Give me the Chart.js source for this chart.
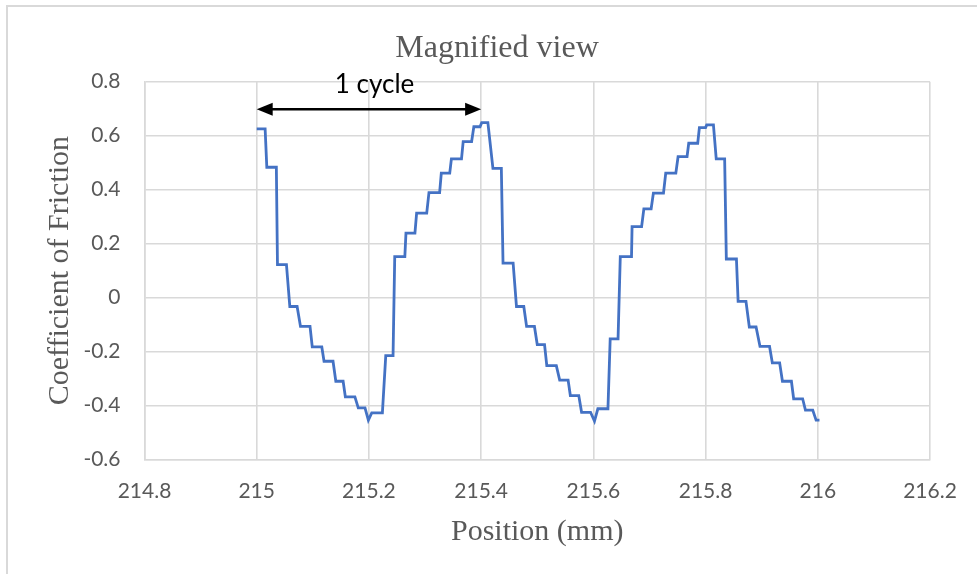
<!DOCTYPE html>
<html>
<head>
<meta charset="utf-8">
<script src="https://cdn.jsdelivr.net/npm/chart.js@4/dist/chart.umd.min.js"></script>
<style>
  html, body { margin: 0; padding: 0; background: #ffffff; }
  #wrap { width: 977px; height: 574px; position: relative; }
</style>
</head>
<body>
<div id="wrap"><canvas id="cof"></canvas></div>
<script>
// Sliding position (mm) and coefficient of friction over two reciprocating cycles
const positionMm = [215.000,215.015,215.018,215.035,215.037,215.053,215.059,215.072,215.078,215.095,
  215.099,215.116,215.120,215.136,215.141,215.154,215.158,215.175,215.181,215.193,
  215.199,215.205,215.224,215.230,215.243,215.246,215.264,215.266,215.282,215.285,
  215.303,215.307,215.326,215.329,215.344,215.347,215.365,215.368,215.383,215.387,
  215.398,215.401,215.412,215.421,215.436,215.439,215.457,215.463,215.476,215.481,
  215.495,215.500,215.513,215.517,215.534,215.540,215.555,215.559,215.574,215.579,
  215.595,215.602,215.608,215.626,215.630,215.644,215.648,215.668,215.669,215.686,
  215.690,215.703,215.707,215.725,215.729,215.747,215.751,215.767,215.770,215.786,
  215.789,215.800,215.802,215.814,215.819,215.834,215.837,215.855,215.858,215.872,
  215.878,215.890,215.897,215.914,215.919,215.932,215.937,215.953,215.957,215.973,
  215.978,215.991,215.997,216.003];
const frictionCoef = [0.625,0.625,0.483,0.483,0.122,0.122,-0.033,-0.033,-0.107,-0.107,
  -0.183,-0.183,-0.236,-0.236,-0.310,-0.310,-0.368,-0.368,-0.409,-0.409,
  -0.454,-0.427,-0.427,-0.215,-0.215,0.152,0.152,0.239,0.239,0.313,
  0.313,0.389,0.389,0.461,0.461,0.514,0.514,0.578,0.578,0.633,
  0.633,0.648,0.648,0.479,0.479,0.128,0.128,-0.033,-0.033,-0.107,
  -0.107,-0.174,-0.174,-0.252,-0.252,-0.306,-0.306,-0.363,-0.363,-0.425,
  -0.425,-0.458,-0.412,-0.412,-0.153,-0.153,0.152,0.152,0.263,0.263,
  0.329,0.329,0.387,0.387,0.461,0.461,0.522,0.522,0.572,0.572,
  0.630,0.630,0.640,0.640,0.514,0.514,0.143,0.143,-0.014,-0.014,
  -0.109,-0.109,-0.181,-0.181,-0.242,-0.242,-0.310,-0.310,-0.375,-0.375,
  -0.417,-0.417,-0.454,-0.454];

// Axis tick values
const xTicks = [214.8, 215, 215.2, 215.4, 215.6, 215.8, 216, 216.2];
const yTicks = [-0.6, -0.4, -0.2, 0, 0.2, 0.4, 0.6, 0.8];

// "1 cycle" span marker
const cycleStart = 215.0;
const cycleEnd = 215.4;
const cycleLevel = 0.698;
const cycleLabel = '1 cycle';
const cycleLabelPos = { x: 215.21, y: 0.79 };

const GRID = '#d9d9d9';
const TEXT = '#595959';
const SANS = 'Lato, "Open Sans", sans-serif';
const SERIF = '"Liberation Serif", "Times New Roman", serif';

const points = positionMm.map((x, i) => ({ x: x, y: frictionCoef[i] }));

// Light frame around the whole chart object
const framePlugin = {
  id: 'frame',
  beforeDraw(chart) {
    const ctx = chart.ctx;
    ctx.save();
    ctx.fillStyle = '#ffffff';
    ctx.fillRect(0, 0, chart.width, chart.height);
    ctx.strokeStyle = GRID;
    ctx.lineWidth = 2;
    ctx.strokeRect(7, 6, chart.width + 20, chart.height + 20);
    ctx.restore();
  }
};

// Double-headed arrow spanning one cycle, with its label
const cyclePlugin = {
  id: 'cycleSpan',
  afterDatasetsDraw(chart) {
    const { ctx, scales: { x, y } } = chart;
    const x0 = x.getPixelForValue(cycleStart);
    const x1 = x.getPixelForValue(cycleEnd);
    const yy = y.getPixelForValue(cycleLevel);
    const head = 16, half = 6.5;
    ctx.save();
    ctx.strokeStyle = '#000000';
    ctx.fillStyle = '#000000';
    ctx.lineWidth = 2.5;
    ctx.beginPath();
    ctx.moveTo(x0 + head - 2, yy);
    ctx.lineTo(x1 - head + 2, yy);
    ctx.stroke();
    ctx.beginPath();
    ctx.moveTo(x0, yy);
    ctx.lineTo(x0 + head, yy - half);
    ctx.lineTo(x0 + head, yy + half);
    ctx.closePath();
    ctx.fill();
    ctx.beginPath();
    ctx.moveTo(x1, yy);
    ctx.lineTo(x1 - head, yy - half);
    ctx.lineTo(x1 - head, yy + half);
    ctx.closePath();
    ctx.fill();
    ctx.font = '26px ' + SANS;
    ctx.textAlign = 'center';
    ctx.textBaseline = 'middle';
    ctx.fillText(cycleLabel, x.getPixelForValue(cycleLabelPos.x), y.getPixelForValue(cycleLabelPos.y));
    ctx.restore();
  }
};

new Chart(document.getElementById('cof'), {
  type: 'scatter',
  data: {
    datasets: [{
      data: points,
      showLine: true,
      borderColor: '#4472c4',
      backgroundColor: '#4472c4',
      borderWidth: 2.8,
      pointRadius: 0,
      tension: 0,
      borderJoinStyle: 'miter'
    }]
  },
  options: {
    responsive: true,
    maintainAspectRatio: false,
    animation: false,
    devicePixelRatio: 1,
    layout: { padding: { left: 64, right: 47, top: 0, bottom: 0 } },
    plugins: {
      legend: { display: false },
      tooltip: { enabled: false },
      title: {
        display: true,
        text: 'Magnified view',
        color: TEXT,
        font: { family: SERIF, size: 32, weight: 'normal' },
        padding: { top: 29, bottom: 14.3 }
      }
    },
    scales: {
      x: {
        type: 'linear',
        min: 214.8,
        max: 216.2,
        afterBuildTicks(axis) { axis.ticks = xTicks.map(v => ({ value: v })); },
        afterFit(axis) { axis.height = 114.5; },
        ticks: {
          color: TEXT,
          font: { family: SANS, size: 21 },
          padding: 19,
          maxRotation: 0,
          autoSkip: false,
          callback: v => String(parseFloat(v.toFixed(1)))
        },
        grid: { color: GRID, lineWidth: 1.6, drawTicks: false },
        border: { color: GRID, width: 1.6 },
        title: {
          display: true,
          text: 'Position (mm)',
          color: TEXT,
          font: { family: SERIF, size: 30, weight: 'normal' },
          padding: { top: 0, bottom: 24 }
        }
      },
      y: {
        type: 'linear',
        min: -0.6,
        max: 0.8,
        afterBuildTicks(axis) { axis.ticks = yTicks.map(v => ({ value: v })); },
        afterFit(axis) { axis.width = 80.5; },
        ticks: {
          color: TEXT,
          font: { family: SANS, size: 21 },
          padding: 24,
          autoSkip: false,
          callback: v => String(parseFloat(v.toFixed(1)))
        },
        grid: { color: GRID, lineWidth: 1.6, drawTicks: false },
        border: { color: GRID, width: 1.6 },
        title: {
          display: true,
          text: 'Coefficient of Friction',
          color: TEXT,
          font: { family: SERIF, size: 30, weight: 'normal' },
          padding: { top: -22, bottom: 0 }
        }
      }
    }
  },
  plugins: [framePlugin, cyclePlugin]
});
</script>
</body>
</html>
